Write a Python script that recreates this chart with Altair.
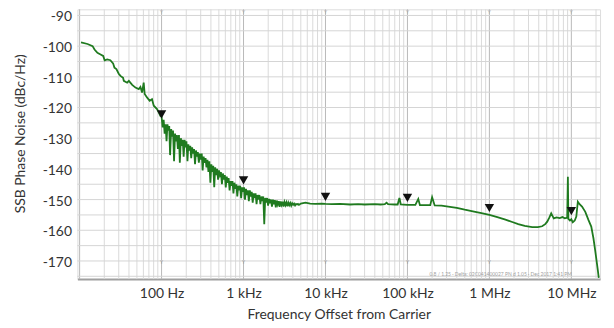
import altair as alt
import pandas as pd

# ---- trace data (frequency offset in Hz, SSB phase noise in dBc/Hz) ----
low_f = [10.4, 12.5, 14.4, 15.2, 16.5, 18.0, 19.4, 20.2, 21.7, 23.7, 25.6, 26.6, 28.1, 30.0,
         31.5, 33.9, 34.6, 38.0, 39.9, 43.8, 48.0, 52.7, 55.2, 57.8, 60.5, 62.2, 66.4, 71.6,
         76.4, 80.3, 88.0, 92.3, 97.0]
low_v = [-98.8, -99.3, -100.0, -101.1, -102.2, -102.7, -103.2, -104.6, -104.3, -104.6, -105.6,
         -107.0, -107.5, -109.0, -109.7, -110.3, -111.3, -111.9, -111.3, -112.6, -113.5, -114.0,
         -113.3, -115.1, -111.9, -115.6, -116.7, -117.8, -117.3, -119.4, -120.5, -121.6, -122.8]

mid_f = [100, 103, 106, 109, 112, 115, 118, 121, 124, 127, 131, 134, 138, 142, 146, 150, 154,
         158, 163, 167, 172, 176, 181, 186, 191, 196, 201, 207, 212, 218, 224, 230, 236, 242,
         249, 256, 263, 270, 277, 285, 293, 301, 309, 317, 326, 335, 344, 353, 363, 373, 383,
         394, 405, 416, 427, 439, 451, 463, 476, 489, 502, 516, 530, 545, 560, 575, 591, 607,
         624, 641, 658, 676, 695, 714, 733, 753, 774, 795, 817, 839, 862, 886, 910, 935, 961,
         987, 1014, 1042, 1070, 1100, 1130, 1161, 1193, 1226, 1259, 1294, 1329, 1366, 1403,
         1442, 1481, 1522, 1563, 1606, 1650, 1695, 1742, 1790, 1839, 1889, 1941, 1994, 2049,
         2105, 2163, 2222, 2283, 2346, 2410, 2476, 2544, 2614, 2686, 2759, 2835, 2913, 2993,
         3075, 3159, 3246, 3335, 3426, 3520, 3617, 3716, 3818, 3922, 4030, 4140, 4254, 4370,
         4490, 4613, 4740, 4870]
mid_v = [-123.0, -126.5, -124.0, -128.5, -125.5, -131.0, -125.5, -127.5, -126.0, -135.5, -127.0,
         -129.5, -127.5, -137.5, -128.5, -131.0, -129.0, -133.5, -129.0, -138.0, -130.0, -132.5,
         -130.5, -136.0, -130.5, -133.0, -131.0, -137.5, -132.0, -134.0, -132.5, -136.5, -133.0,
         -135.0, -133.5, -138.5, -134.0, -136.0, -134.5, -138.0, -135.0, -137.0, -135.0, -140.5,
         -136.0, -138.0, -136.5, -139.5, -137.0, -141.0, -137.5, -144.5, -138.5, -141.0, -139.0,
         -146.0, -139.5, -142.0, -140.0, -143.5, -140.5, -142.0, -141.0, -145.0, -141.5, -143.5,
         -142.0, -146.0, -142.5, -144.5, -143.0, -147.0, -144.0, -145.5, -144.0, -148.0, -144.5,
         -146.5, -145.0, -149.0, -145.5, -147.0, -145.5, -149.5, -146.0, -147.5, -146.0, -150.0,
         -146.5, -148.5, -147.0, -150.5, -147.0, -149.0, -147.5, -151.0, -148.0, -149.5, -148.0,
         -151.5, -148.5, -150.0, -148.5, -151.5, -149.0, -150.5, -149.0, -158.0, -149.5, -151.0,
         -149.5, -152.0, -149.8, -151.2, -150.0, -152.3, -150.0, -151.5, -150.2, -152.5, -150.3,
         -151.6, -150.5, -152.4, -150.6, -151.7, -150.7, -152.3, -150.8, -151.8, -150.9, -152.2,
         -151.0, -151.8, -151.1, -152.0, -151.2, -151.7, -151.3, -151.9, -151.4, -151.6, -151.4,
         -151.7, -151.5]

flat_f = [5000, 5700, 6500, 7500, 9000, 10000, 12000, 15000, 20000, 25000, 30000, 40000, 47000,
          53000, 55600, 58000, 70000, 76000, 79800, 83000, 100000, 125000, 135600, 142000,
          170000, 190000, 200000, 215000]
flat_v = [-151.3, -151.0, -151.3, -151.4, -151.3, -151.4, -151.5, -151.4, -151.6, -151.5, -151.6,
          -151.5, -151.6, -151.5, -151.0, -151.5, -151.6, -151.6, -149.5, -151.6, -151.7, -151.7,
          -149.8, -151.8, -151.8, -151.8, -149.2, -151.9]

high_f = [260000, 300000, 400000, 500000, 650000, 800000, 1000000, 1250000, 1570000, 1900000,
          2250000, 2700000, 3330000, 3900000, 4400000, 4800000, 5080000, 5400000, 5680000,
          6100000, 6600000, 7200000, 7800000, 8300000, 8900000, 9070000, 9200000, 9600000,
          10000000, 10400000, 11000000, 11500000, 12000000, 12600000, 13500000, 14800000,
          16200000, 17500000, 18600000, 19500000, 21000000, 21600000]
high_v = [-152.0, -152.2, -152.7, -153.3, -153.9, -154.4, -155.0, -155.7, -156.5, -157.3, -158.0,
          -158.6, -159.0, -159.0, -158.7, -158.0, -157.2, -155.8, -154.5, -156.1, -155.8, -156.0,
          -155.7, -156.1, -155.9, -142.6, -156.3, -156.8, -156.4, -157.4, -156.8, -155.5, -150.7,
          -151.5, -152.3, -154.0, -156.7, -158.8, -162.6, -166.4, -172.8, -175.5]

# ---- marker data ----
marker_f = [100, 1000, 10000, 100000, 1000000, 10000000]
marker_v = [-124.5, -146.0, -151.4, -151.7, -155.0, -156.0]

# ---- axis tick labels and grid ----
x_label_vals = [100, 1000, 10000, 100000, 1000000, 10000000]
x_label_text = ["100 Hz", "1 kHz", "10 kHz", "100 kHz", "1 MHz", "10 MHz"]
y_label_vals = [-170, -160, -150, -140, -130, -120, -110, -100, -90]
y_grid_vals = [-175, -170, -165, -160, -155, -150, -145, -140, -135, -130, -125, -120, -115,
               -110, -105, -100, -95, -90]
decade_vals = [10, 100, 1000, 10000, 100000, 1000000, 10000000]
minor_mult = [2, 3, 4, 5, 6, 7, 8, 9]

footer_text = "0.8 / 1.25 · Delta: 02C041400027 PN d 1.05 · Dec 2017 1:41 PM"

freqs = low_f + mid_f + flat_f + high_f
vals = low_v + mid_v + flat_v + high_v
n = min(len(freqs), len(vals))
trace = pd.DataFrame({"f": freqs[:n], "v": vals[:n], "i": list(range(n))})
markers = pd.DataFrame({"f": marker_f, "v": marker_v})
minor_grid = pd.DataFrame({"f": [d * m for d in decade_vals for m in minor_mult if d * m <= 22000000]})
major_grid = pd.DataFrame({"f": decade_vals})
hgrid = pd.DataFrame({"v": y_grid_vals})

label_expr = "''"
for v_, t_ in reversed(list(zip(x_label_vals, x_label_text))):
    label_expr = f"datum.value == {v_} ? '{t_}' : ({label_expr})"

FONT = "Lato"
TXT = "#333333"

xscale = alt.Scale(type="log", domain=[9.4, 22400000], nice=False)
yscale = alt.Scale(domain=[-175.9, -88], nice=False, zero=False)

x_axis = alt.Axis(
    values=x_label_vals, labelExpr=label_expr, title="Frequency Offset from Carrier",
    grid=False, ticks=False, labelPadding=8, titlePadding=7, labelFontSize=14, titleFontSize=14,
    labelFont=FONT, titleFont=FONT, titleFontWeight="normal", labelColor=TXT,
    titleColor=TXT, domainColor="#a0a0a0", domainWidth=2, labelOverlap=False,
    labelBound=False, labelFlush=False,
)
y_axis = alt.Axis(
    values=y_label_vals, labelExpr="'' + datum.value",
    title="SSB Phase Noise (dBc/Hz)", grid=False, domain=False,
    ticks=False, labelPadding=6, labelFontSize=14, titleFontSize=14, labelFont=FONT,
    titleFont=FONT, titleFontWeight="normal", labelColor=TXT, titleColor=TXT,
    titleX=-50, titleY=125, titleAngle=270, titleBaseline="bottom", titleAlign="center",
    labelOverlap=False, labelOffset=1.5, labelBound=False, labelFlush=False,
)

X = alt.X("f:Q", scale=xscale, axis=x_axis)
Y = alt.Y("v:Q", scale=yscale, axis=y_axis)

vminor = alt.Chart(minor_grid).mark_rule(color="#dadada", strokeWidth=1).encode(x=X)
vmajor = alt.Chart(major_grid).mark_rule(color="#b8b8b8", strokeWidth=1).encode(x=X)
hlines = alt.Chart(hgrid).mark_rule(color="#d4d4d4", strokeWidth=1).encode(y=Y)

line = alt.Chart(trace).mark_line(color="#1f7a1f", strokeWidth=1.8, clip=True).encode(
    x=X, y=Y, order="i:Q"
)

tri = alt.Chart(markers).mark_point(
    shape="triangle-down", filled=True, size=90, color="#111111", opacity=1, yOffset=-7
).encode(x=X, y=Y)

ind_bottom = alt.Chart(markers).mark_text(text="Y", fontSize=5, color="#999999", font=FONT).encode(
    x=X, y=alt.value(255)
)
ind_top = alt.Chart(markers).mark_text(text="Y", fontSize=5, color="#aaaaaa", font=FONT).encode(
    x=X, y=alt.value(3)
)
footer = alt.Chart(pd.DataFrame({"t": [footer_text]})).mark_text(
    fontSize=5, color="#a0a0a0", align="left", font=FONT
).encode(x=alt.value(355), y=alt.value(267), text="t:N")

chart = alt.layer(vminor, vmajor, hlines, line, tri, ind_bottom, ind_top, footer).properties(
    width=527, height=272, autosize="none",
    padding={"left": 70, "top": 0, "right": 6, "bottom": 48},
).configure_view(stroke="#c8c8c8").configure(background="white")

chart.save("out.html", embed_options={"renderer": "svg", "actions": False})
